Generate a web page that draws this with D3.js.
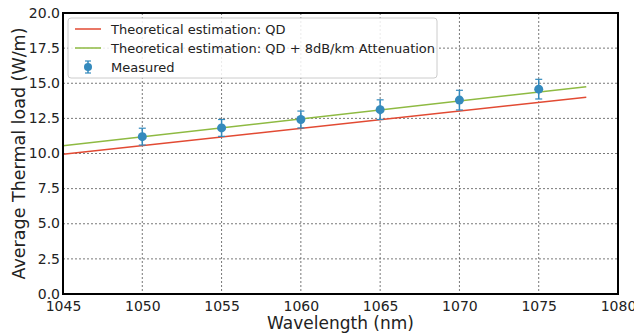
<!DOCTYPE html>
<html><head><meta charset="utf-8">
<script src="https://cdn.jsdelivr.net/npm/d3@7"></script>
<style>body{margin:0;background:#fff}svg{display:block}text{font-family:"DejaVu Sans",sans-serif;fill:#222}</style>
</head><body>
<svg id="c" width="634" height="335"></svg>
<script>
const xTicks = [1045,1050,1055,1060,1065,1070,1075,1080];
const yTicks = [0,2.5,5,7.5,10,12.5,15,17.5,20];
const qdX = [1045,1078];
const qdY = [9.95,14.0];
const attX = [1045,1078];
const attY = [10.55,14.75];
const measX = [1050,1055,1060,1065,1070,1075];
const measY = [11.2,11.82,12.42,13.12,13.8,14.58];
const measErr = [0.6,0.6,0.6,0.7,0.7,0.7];
const legendLabels = ["Theoretical estimation: QD","Theoretical estimation: QD + 8dB/km Attenuation","Measured"];

const svg = d3.select("#c");
const L=63,R=618,T=13,B=294;
const x = d3.scaleLinear().domain([1045,1080]).range([L,R]);
const y = d3.scaleLinear().domain([0,20]).range([B,T]);

// grid
svg.append("g").selectAll("line").data(xTicks.slice(1,-1)).join("line")
  .attr("x1",d=>x(d)).attr("x2",d=>x(d)).attr("y1",T).attr("y2",B)
  .attr("stroke","#555").attr("stroke-width",0.8).attr("stroke-dasharray","2,2");
svg.append("g").selectAll("line").data(yTicks.slice(1,-1)).join("line")
  .attr("y1",d=>y(d)).attr("y2",d=>y(d)).attr("x1",L).attr("x2",R)
  .attr("stroke","#555").attr("stroke-width",0.8).attr("stroke-dasharray","2,2");

// lines
const line = d3.line().x(d=>x(d[0])).y(d=>y(d[1]));
svg.append("path").datum(qdX.map((v,i)=>[v,qdY[i]])).attr("d",line)
  .attr("fill","none").attr("stroke","#E24A33").attr("stroke-width",1.5);
svg.append("path").datum(attX.map((v,i)=>[v,attY[i]])).attr("d",line)
  .attr("fill","none").attr("stroke","#8EBA42").attr("stroke-width",1.5);

// measured
const blue="#348ABD";
const m = svg.append("g").selectAll("g").data(measX.map((v,i)=>({x:v,y:measY[i],e:measErr[i]}))).join("g");
m.append("line").attr("x1",d=>x(d.x)).attr("x2",d=>x(d.x))
  .attr("y1",d=>y(d.y+d.e)).attr("y2",d=>y(d.y-d.e)).attr("stroke",blue).attr("stroke-width",1.5);
m.append("line").attr("x1",d=>x(d.x)-3.5).attr("x2",d=>x(d.x)+3.5)
  .attr("y1",d=>y(d.y+d.e)).attr("y2",d=>y(d.y+d.e)).attr("stroke",blue).attr("stroke-width",1.2);
m.append("line").attr("x1",d=>x(d.x)-3.5).attr("x2",d=>x(d.x)+3.5)
  .attr("y1",d=>y(d.y-d.e)).attr("y2",d=>y(d.y-d.e)).attr("stroke",blue).attr("stroke-width",1.2);
m.append("circle").attr("cx",d=>x(d.x)).attr("cy",d=>y(d.y)).attr("r",4.5).attr("fill",blue);

// axes
const xa = svg.append("g").attr("transform",`translate(0,${B})`)
  .call(d3.axisBottom(x).tickValues(xTicks).tickFormat(d3.format("d")).tickSize(0).tickPadding(4));
const ya = svg.append("g").attr("transform",`translate(${L},0)`)
  .call(d3.axisLeft(y).tickValues(yTicks).tickFormat(d3.format(".1f")).tickSize(0).tickPadding(3));
[xa,ya].forEach(a=>{a.select(".domain").remove();a.selectAll("text").attr("font-size",14).attr("fill","#222").attr("font-family","DejaVu Sans");});
xa.selectAll("text").attr("dy","0.9em");
ya.selectAll("text").attr("dy","0.3em");

// frame
svg.append("rect").attr("x",L).attr("y",T).attr("width",R-L).attr("height",B-T)
  .attr("fill","none").attr("stroke","#000").attr("stroke-width",2);

// legend
const lg = svg.append("g");
lg.append("rect").attr("x",68).attr("y",18).attr("width",369).attr("height",60).attr("rx",3)
  .attr("fill","#fff").attr("fill-opacity",0.85).attr("stroke","#ccc");
const ly=[29,48,67];
lg.append("line").attr("x1",75).attr("x2",101).attr("y1",ly[0]).attr("y2",ly[0]).attr("stroke","#E24A33").attr("stroke-width",1.5);
lg.append("line").attr("x1",75).attr("x2",101).attr("y1",ly[1]).attr("y2",ly[1]).attr("stroke","#8EBA42").attr("stroke-width",1.5);
lg.append("line").attr("x1",88).attr("x2",88).attr("y1",ly[2]-6).attr("y2",ly[2]+6).attr("stroke",blue).attr("stroke-width",1.5);
lg.append("line").attr("x1",85).attr("x2",91).attr("y1",ly[2]-6).attr("y2",ly[2]-6).attr("stroke",blue).attr("stroke-width",1.2);
lg.append("line").attr("x1",85).attr("x2",91).attr("y1",ly[2]+6).attr("y2",ly[2]+6).attr("stroke",blue).attr("stroke-width",1.2);
lg.append("circle").attr("cx",88).attr("cy",ly[2]).attr("r",4).attr("fill",blue);
lg.selectAll("text.l").data(legendLabels).join("text").attr("class","l")
  .attr("x",111).attr("y",(d,i)=>ly[i]).attr("dy","0.35em").attr("font-size",13).text(d=>d);

// axis titles
svg.append("text").attr("x",(L+R)/2).attr("y",329).attr("text-anchor","middle").attr("font-size",17).text("Wavelength (nm)");
svg.append("text").attr("transform",`translate(25,${(T+B)/2}) rotate(-90)`).attr("text-anchor","middle").attr("font-size",17.5).text("Average Thermal load (W/m)");
</script>
</body></html>
